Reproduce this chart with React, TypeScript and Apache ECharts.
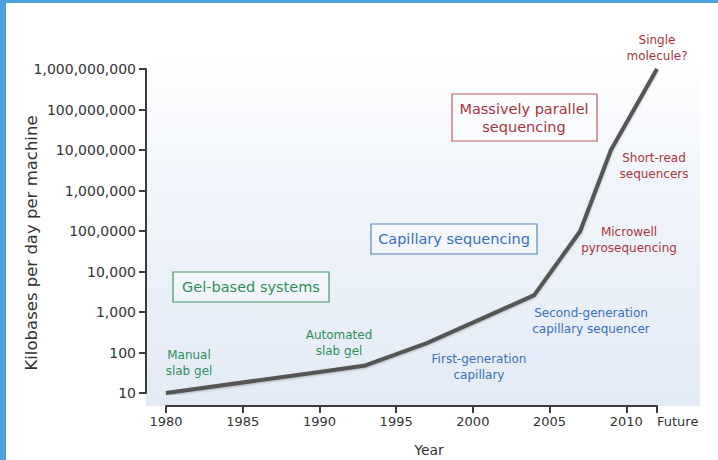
import React, { useEffect, useRef } from "react";
import * as echarts from "echarts";

const years = [1980, 1990, 1993, 1997, 2004, 2007, 2009, 2012];
const kilobases = [10, 33, 48, 170, 2600, 100000, 10000000, 1000000000];
const xTickValues = [1980, 1985, 1990, 1995, 2000, 2005, 2010, 2012];
const xTickLabels = ["1980", "1985", "1990", "1995", "2000", "2005", "2010", "Future"];
const yTickValues = [10, 100, 1000, 10000, 100000, 1000000, 10000000, 100000000, 1000000000];
const yTickLabels = ["10", "100", "1,000", "10,000", "100,0000", "1,000,000", "10,000,000", "100,000,000", "1,000,000,000"];

const FONT = "DejaVu Sans, Liberation Sans, Arial, sans-serif";
const GREEN = "#2f8f5b";
const BLUE = "#3a6fbd";
const RED = "#a8353b";

export default function App() {
  const ref = useRef<HTMLDivElement>(null);
  useEffect(() => {
    if (!ref.current) return;
    const chart = echarts.init(ref.current, null, { renderer: "svg" });
    const txt = (x: number, y: number, text: string, color: string, size: number, lh: number) => ({
      type: "text",
      x,
      y,
      silent: true,
      style: {
        text,
        fill: color,
        font: `${size}px ${FONT}`,
        align: "center",
        verticalAlign: "middle",
        lineHeight: lh,
      },
      z: 10,
    });
    const box = (x: number, y: number, w: number, h: number, color: string) => ({
      type: "rect",
      shape: { x, y, width: w, height: h },
      style: { fill: "rgba(255,255,255,0.35)", stroke: color, lineWidth: 1.2 },
      silent: true,
      z: 9,
    });
    chart.setOption({
      animation: false,
      backgroundColor: "#ffffff",
      grid: { left: 166, right: 61, top: 69, bottom: 67, containLabel: false },
      xAxis: {
        type: "value",
        min: 1980,
        max: 2012,
        offset: 13,
        axisLine: { show: true, lineStyle: { color: "#3c3c3c", width: 2 } },
        axisTick: { show: true, customValues: xTickValues, length: 7, lineStyle: { color: "#3c3c3c", width: 2 } },
        axisLabel: {
          customValues: xTickValues,
          showMaxLabel: true,
          showMinLabel: true,
          alignMaxLabel: "left",
          hideOverlap: false,
          formatter: (v: number) => xTickLabels[xTickValues.indexOf(v)] ?? "",
          color: "#333",
          fontSize: 13,
          fontFamily: FONT,
          margin: 9,
        },
        splitLine: { show: false },
      },
      yAxis: {
        type: "log",
        logBase: 10,
        min: 10,
        max: 1000000000,
        offset: 20,
        axisLine: { show: true, lineStyle: { color: "#3c3c3c", width: 2 } },
        axisTick: { show: true, customValues: yTickValues, length: 7, lineStyle: { color: "#3c3c3c", width: 2 } },
        axisLabel: {
          customValues: yTickValues,
          showMaxLabel: true,
          showMinLabel: true,
          formatter: (v: number) => yTickLabels[Math.round(Math.log10(v)) - 1] ?? "",
          color: "#333",
          fontSize: 14,
          fontFamily: FONT,
          margin: 10,
        },
        splitLine: { show: false },
        minorTick: { show: false },
      },
      graphic: [
        { type: "rect", shape: { x: 0, y: 0, width: 6, height: 460 }, style: { fill: "#4f9fda" }, silent: true },
        { type: "rect", shape: { x: 0, y: 0, width: 718, height: 3 }, style: { fill: "#4f9fda" }, silent: true },
        {
          type: "rect",
          shape: { x: 146, y: 58, width: 554, height: 348 },
          style: {
            fill: new echarts.graphic.LinearGradient(0, 0, 0, 1, [
              { offset: 0, color: "#ffffff" },
              { offset: 0.35, color: "#f1f5fb" },
              { offset: 1, color: "#e3ebf6" },
            ]),
          },
          silent: true,
          z: -10,
        },
        {
          type: "text",
          x: 31,
          y: 243,
          rotation: Math.PI / 2,
          silent: true,
          style: { text: "Kilobases per day per machine", fill: "#333", font: `16.5px ${FONT}`, align: "center", verticalAlign: "middle" },
        },
        {
          type: "text",
          x: 429,
          y: 450,
          silent: true,
          style: { text: "Year", fill: "#333", font: `14px ${FONT}`, align: "center", verticalAlign: "middle" },
        },
        box(452, 94, 145, 47, "#c25a5e"),
        txt(524, 118, "Massively parallel\nsequencing", RED, 14.5, 18),
        box(371, 224, 166, 30, "#5a86c8"),
        txt(454, 239, "Capillary sequencing", BLUE, 14.5, 18),
        box(173, 272, 156, 30, "#3f9966"),
        txt(251, 287, "Gel-based systems", GREEN, 14.5, 18),
        txt(657, 48, "Single\nmolecule?", RED, 12, 16),
        txt(654, 166, "Short-read\nsequencers", RED, 12, 16),
        txt(629, 240, "Microwell\npyrosequencing", RED, 12, 16),
        txt(591, 321, "Second-generation\ncapillary sequencer", BLUE, 12, 16),
        txt(479, 367, "First-generation\ncapillary", BLUE, 12, 16),
        txt(339, 343, "Automated\nslab gel", GREEN, 12, 16),
        txt(189, 363, "Manual\nslab gel", GREEN, 12, 16),
      ],
      series: [
        {
          type: "line",
          data: years.map((y, i) => [y, kilobases[i]]),
          symbol: "none",
          lineStyle: {
            color: "#555555",
            width: 4,
            shadowColor: "rgba(0,0,0,0.25)",
            shadowBlur: 2,
            shadowOffsetY: 1,
          },
          z: 5,
        },
      ],
    });
    return () => chart.dispose();
  }, []);
  return <div ref={ref} style={{ width: 718, height: 460, position: "absolute", left: 0, top: 0 }} />;
}
